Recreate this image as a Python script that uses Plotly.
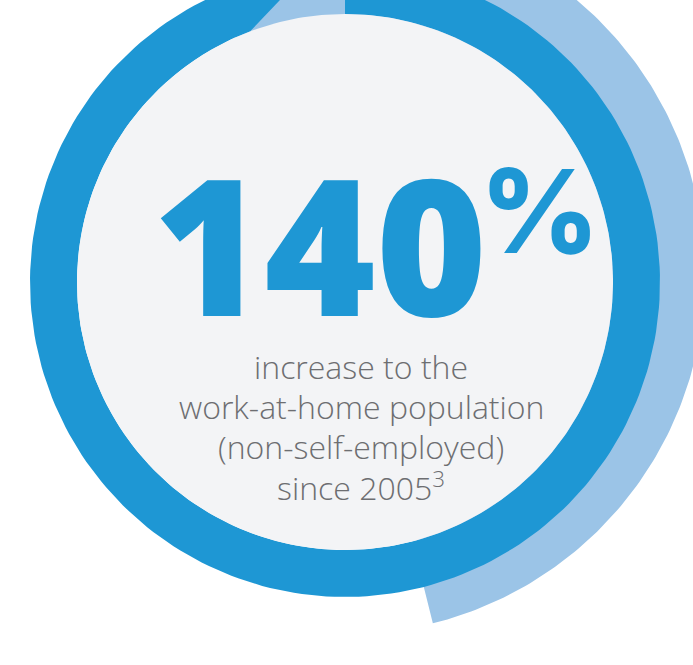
import numpy as np
import plotly.graph_objects as go

# ---- content / data ----
headline_value = "140"
headline_suffix = "%"
description_lines = [
    "increase to the",
    "work-at-home population",
    "(non-self-employed)",
    "since 2005<sup>3</sup>",
]

# ---- styling constants ----
W, H = 693, 665
DARK = "#1e97d4"
LIGHT = "#9bc4e7"
FACE = "#f3f4f6"
TEXT = "#6d6e71"

# dark ring geometry
CX, CY = 345, 282
R_OUT, R_IN = 315, 268
# light arc geometry
LCX, LCY = 346, 275
L_OUT, L_IN = 359, 240


def arc(cx, cy, r, a0, a1, n=240):
    t = np.linspace(a0, a1, n)
    a = np.radians(t)
    return cx + r * np.sin(a), cy - r * np.cos(a)


fig = go.Figure()

# light outer arc (behind)
xo, yo = arc(LCX, LCY, L_OUT, -25, 166)
xi, yi = arc(LCX, LCY, L_IN, 166, -25)
fig.add_trace(go.Scatter(x=np.r_[xo, xi, xo[:1]], y=np.r_[yo, yi, yo[:1]],
                         mode="lines", fill="toself", fillcolor=LIGHT,
                         line=dict(width=0, color=LIGHT), hoverinfo="skip"))

# dark ring with slanted cut at the top-left
xo, yo = arc(CX, CY, R_OUT, 0, 353.5)
xi, yi = arc(CX, CY, R_IN, 339.3, 0)
fig.add_trace(go.Scatter(x=np.r_[xo, xi, xo[:1]], y=np.r_[yo, yi, yo[:1]],
                         mode="lines", fill="toself", fillcolor=DARK,
                         line=dict(width=0, color=DARK), hoverinfo="skip"))

# inner face
xf, yf = arc(CX, CY, R_IN, 0, 360, 360)
fig.add_trace(go.Scatter(x=xf, y=yf, mode="lines", fill="toself", fillcolor=FACE,
                         line=dict(width=0, color=FACE), hoverinfo="skip"))

# headline
fig.add_annotation(x=320, y=242, text=headline_value, showarrow=False,
                   xanchor="center", yanchor="middle",
                   font=dict(family="Open Sans", size=190, color=DARK, weight=800))
fig.add_annotation(x=539, y=211, text=headline_suffix, showarrow=False,
                   xanchor="center", yanchor="middle",
                   font=dict(family="Inter", size=116, color=DARK, weight=800))

baselines = [376, 416, 456, 496]
for line, b in zip(description_lines, baselines):
    fig.add_annotation(x=361, y=b - 10, text=line, showarrow=False,
                       xanchor="center", yanchor="middle",
                       font=dict(family="Open Sans", size=32, color=TEXT, weight=300))

fig.update_layout(
    width=W, height=H, margin=dict(l=0, r=0, t=0, b=0),
    paper_bgcolor="white", plot_bgcolor="white", showlegend=False,
    xaxis=dict(range=[0, W], visible=False, fixedrange=True),
    yaxis=dict(range=[H, 0], visible=False, fixedrange=True),
)

fig.write_html("out.html", config={"displayModeBar": False},
               post_script="document.body.style.margin='0';")
